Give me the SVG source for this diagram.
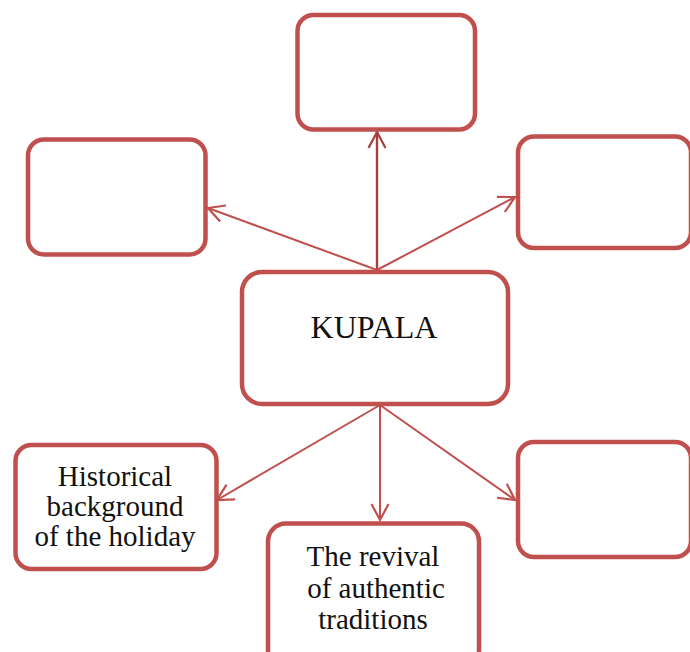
<svg xmlns="http://www.w3.org/2000/svg" width="690" height="652" viewBox="0 0 690 652">
<style>
.box{fill:#fff;stroke:#C0504D;stroke-width:4.5}
.con{stroke:#C0504D;stroke-width:2;fill:none;marker-end:url(#ah)}
.lbl{font-family:"Liberation Serif","Times New Roman",serif;font-size:29px;fill:#111;text-anchor:middle}
</style>
<defs>
<marker id="ah" markerUnits="userSpaceOnUse" markerWidth="30" markerHeight="30" refX="0" refY="0" viewBox="-20 -15 25 30" orient="auto">
<path d="M-16,-8.5 L0,0 L-16,8.5" fill="none" stroke="#C0504D" stroke-width="2.2"/>
</marker>
<marker id="ahd" markerUnits="userSpaceOnUse" markerWidth="30" markerHeight="30" refX="0" refY="0" viewBox="-20 -15 25 30" orient="auto">
<path d="M-16,-8.5 L0,0 L-16,8.5" fill="none" stroke="#A33F3D" stroke-width="2.2"/>
</marker>
</defs>
<rect width="690" height="652" fill="#fff"/>
<g id="connectors">
<line x1="377" y1="270" x2="377" y2="132" stroke="#A33F3D" stroke-width="2.4" marker-end="url(#ahd)"/>
<line class="con" x1="377" y1="270" x2="208" y2="208"/>
<line class="con" x1="377" y1="270" x2="515" y2="197"/>
<line class="con" x1="380" y1="405" x2="217" y2="500"/>
<line class="con" x1="380" y1="405" x2="380" y2="520"/>
<line class="con" x1="380" y1="405" x2="515" y2="500"/>
</g>
<g id="node-top"><rect class="box" x="297.5" y="15" width="177.5" height="114.5" rx="16"/></g>
<g id="node-left-top"><rect class="box" x="28" y="139.5" width="177.5" height="115" rx="16"/></g>
<g id="node-right-top"><rect class="box" x="518" y="136.5" width="173" height="111.5" rx="16"/></g>
<g id="node-center"><rect class="box" x="242" y="272" width="266" height="132" rx="20"/>
<text class="lbl" x="374" y="338" style="font-size:32px">KUPALA</text></g>
<g id="node-left-bottom"><rect class="box" x="15.5" y="445" width="201" height="124" rx="16"/>
<text class="lbl" x="115" y="486">Historical</text>
<text class="lbl" x="115" y="516">background</text>
<text class="lbl" x="115" y="546">of the holiday</text></g>
<g id="node-bottom"><rect class="box" x="268" y="523.5" width="211" height="145" rx="18"/>
<text class="lbl" x="373" y="566">The revival</text>
<text class="lbl" x="376" y="598">of authentic</text>
<text class="lbl" x="373" y="629">traditions</text></g>
<g id="node-right-bottom"><rect class="box" x="518" y="442" width="173" height="115" rx="16"/></g>
</svg>
